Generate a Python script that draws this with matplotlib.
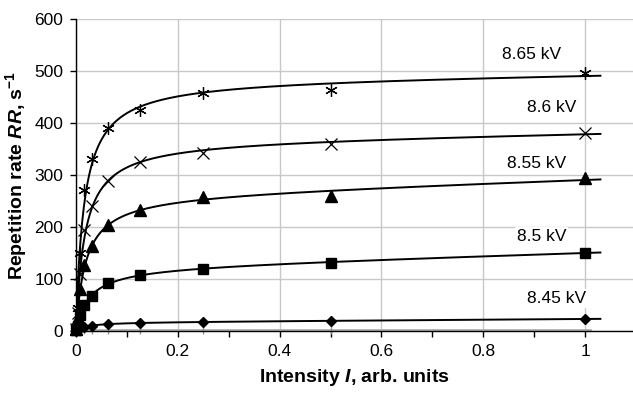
import numpy as np
import matplotlib
matplotlib.use("Agg")
import matplotlib.pyplot as plt

plt.rcParams['font.family'] = ['Liberation Sans', 'DejaVu Sans']
plt.rcParams['mathtext.fontset'] = 'custom'
plt.rcParams['mathtext.rm'] = 'Liberation Sans'
plt.rcParams['mathtext.it'] = 'Liberation Sans:italic'
plt.rcParams['mathtext.bf'] = 'Liberation Sans:bold'
try:
    plt.rcParams['mathtext.bfit'] = 'Liberation Sans:bold:italic'
except KeyError:
    pass

# Intensity values (arb. units)
intensity = [0.0, 0.0039, 0.0078, 0.015625, 0.03125, 0.0625, 0.125, 0.25, 0.5, 1.0]

rr_865 = [5, 45, 150, 271, 330, 391, 425, 458, 463, 497]
rr_860 = [4, 35, 110, 195, 240, 288, 325, 343, 360, 381]
rr_855 = [3, 25, 80, 127, 163, 203, 233, 257, 260, 294]
rr_850 = [2, 10, 30, 50, 68, 93, 107, 119, 131, 151]
rr_845 = [1, 3, 5, 8, 10, 13, 15, 18, 20, 23]

series_labels = ['8.65 kV', '8.6 kV', '8.55 kV', '8.5 kV', '8.45 kV']
label_x = [0.894, 0.935, 0.905, 0.914, 0.944]
label_y = [532, 430, 323, 182, 63]

x = np.array(intensity)


def fit_curve(xv, yv):
    # saturating + linear trend fitted to the data: y = a*x/(k+x) + b*x
    best = None
    for k in np.geomspace(1e-3, 1.0, 400):
        A = np.column_stack([xv / (k + xv), xv])
        coef, *_ = np.linalg.lstsq(A, yv, rcond=None)
        res = np.sum((A @ coef - yv) ** 2)
        if best is None or res < best[0]:
            best = (res, k, coef)
    _, k, coef = best
    return lambda t: coef[0] * t / (k + t) + coef[1] * t


fig = plt.figure(figsize=(6.33, 3.96), dpi=100)
ax = fig.add_axes([0.120, 0.164, 0.880, 0.788])

ax.set_xlim(0, 1.094)
ax.set_ylim(0, 600)
ax.set_xticks([0, 0.2, 0.4, 0.6, 0.8, 1.0])
ax.set_xticklabels(['0', '0.2', '0.4', '0.6', '0.8', '1'])
ax.set_xticks(np.arange(0.1, 1.1, 0.2), minor=True)
ax.set_yticks(np.arange(0, 601, 100))
ax.grid(True, color='#c8c8c8', linewidth=1.0)
ax.set_axisbelow(True)
for s in ['top', 'right']:
    ax.spines[s].set_visible(False)
for s in ['left', 'bottom']:
    ax.spines[s].set_linewidth(1.0)
ax.tick_params(axis='both', which='both', direction='out', length=4, width=1,
               labelsize=12.5, colors='black', pad=5)
ax.tick_params(axis='x', which='minor', length=4)

# light baseline near zero
ax.plot([0, 1.01], [2, 2], color='#b0b0b0', lw=2, zorder=1)

xx = np.linspace(0, 1.03, 600)
styles = [
    dict(marker=(6, 2, 0), ms=9, mew=0.9, color='black'),
    dict(marker='x', ms=8, mew=0.9, color='black'),
    dict(marker='^', ms=8, color='black'),
    dict(marker='s', ms=7, color='black'),
    dict(marker='D', ms=5.5, color='black'),
]
all_series = [rr_865, rr_860, rr_855, rr_850, rr_845]

for yv, st in zip(all_series, styles):
    y = np.array(yv, dtype=float)
    f = fit_curve(x, y)
    ax.plot(xx, f(xx), color='black', lw=1.4, zorder=3)
    ax.plot(x, y, linestyle='none', zorder=4, clip_on=False, **st)

# error bars on lowest series
ax.vlines(x[3:9], -6, np.array(rr_845[3:9]), color='#909090', lw=1, zorder=2, clip_on=False)

for lab, lx, ly in zip(series_labels, label_x, label_y):
    ax.text(lx, ly, lab, ha='center', va='center', fontsize=12.5,
            bbox=dict(facecolor='white', edgecolor='none', pad=1.5), zorder=5)

ax.set_xlabel(r'Intensity $\mathbfit{I}$, arb. units', fontsize=14, fontweight='bold', labelpad=6)
ax.set_ylabel(r'Repetition rate $\mathbfit{RR}$, s$^{\mathbf{-1}}$', fontsize=14, fontweight='bold', labelpad=4)

fig.savefig('out.png', dpi=100)
